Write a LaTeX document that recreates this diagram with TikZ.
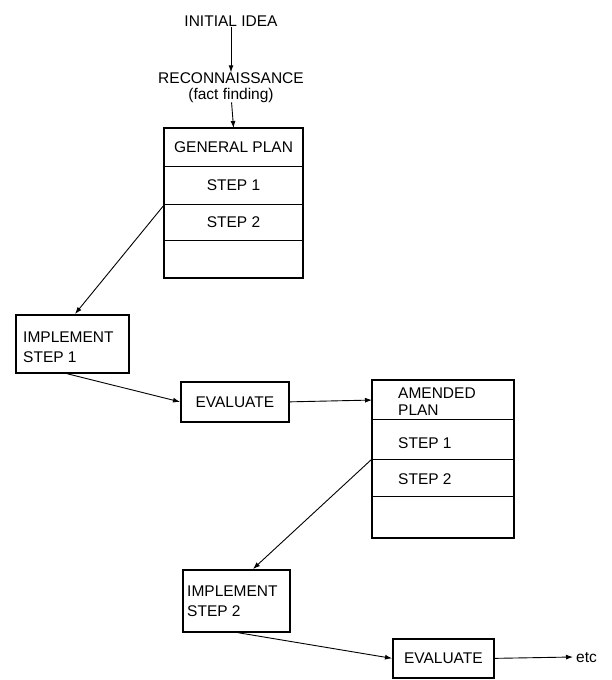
\documentclass[tikz,border=0pt]{standalone}
\usepackage{fontspec}
\setmainfont{Liberation Sans}
\usetikzlibrary{arrows.meta}
\begin{document}
\begin{tikzpicture}[x=1pt,y=-1pt,
  lbl/.style={font=\fontsize{15.5}{18}\selectfont, inner sep=0pt},
  row/.style={draw, line width=1.1pt, inner sep=0pt, anchor=north west, minimum width=#1},
  box/.style={draw, line width=1.7pt, inner sep=0pt, anchor=north west},
  frame/.style={draw, line width=1.8pt},
  arr/.style={-{Latex[length=7pt,width=5pt]}, line width=0.9pt}]
\useasboundingbox (0,0) rectangle (612,680);

% top texts
\node[lbl] (idea) at (231,21) {INITIAL IDEA};
\node[lbl] (recon) at (231,78) {RECONNAISSANCE};
\node[lbl] (fact) at (231,95) {(fact finding)};

% general plan
\node[row=138pt, minimum height=38pt] (gp1) at (164,128) {};
\node[row=138pt, minimum height=38pt] (gp2) at (164,166) {};
\node[row=138pt, minimum height=36pt] (gp3) at (164,204) {};
\node[row=138pt, minimum height=37pt] (gp4) at (164,240) {};
\draw[frame] (gp1.north west) rectangle (gp4.south east);
\node[lbl] (gpt) at (gp1.center) {GENERAL PLAN};
\node[lbl] (gps1) at (gp2.center) {STEP 1};
\node[lbl] (gps2) at (gp3.center) {STEP 2};

% implement step 1
\node[box, minimum width=113pt, minimum height=58pt] (imp1) at (15,314) {};
\node[lbl, anchor=west] (imp1a) at (23,337) {IMPLEMENT};
\node[lbl, anchor=west] (imp1b) at (23,357) {STEP 1};

% evaluate 1
\node[box, minimum width=108pt, minimum height=40pt] (ev1) at (180,381) {};
\node[lbl] (ev1t) at (ev1.center) {EVALUATE};

% amended plan
\node[row=141pt, minimum height=39pt] (ap1) at (372,380) {};
\node[row=141pt, minimum height=40pt] (ap2) at (372,419) {};
\node[row=141pt, minimum height=37pt] (ap3) at (372,459) {};
\node[row=141pt, minimum height=41pt] (ap4) at (372,496) {};
\draw[frame] (ap1.north west) rectangle (ap4.south east);
\node[lbl, anchor=west] (apa) at (398,393) {AMENDED};
\node[lbl, anchor=west] (apb) at (398,410) {PLAN};
\node[lbl, anchor=west] (aps1) at (398,443) {STEP 1};
\node[lbl, anchor=west] (aps2) at (398,479) {STEP 2};

% implement step 2
\node[box, minimum width=107pt, minimum height=62pt] (imp2) at (182,569) {};
\node[lbl, anchor=west] (imp2a) at (187,591) {IMPLEMENT};
\node[lbl, anchor=west] (imp2b) at (187,611) {STEP 2};

% evaluate 2
\node[box, minimum width=101pt, minimum height=39pt] (ev2) at (392,638) {};
\node[lbl] (ev2t) at (ev2.center) {EVALUATE};

\coordinate (etcpt) at (573,657);
\node[lbl, anchor=west] (etc) at (576,658) {etc};

% connectors
\draw[arr] (idea) -- (recon);
\draw[arr] (fact) -- (gp1.north);
\draw[arr] (gp2.south west) -- (imp1.north -| 75,0);
\draw[arr] (imp1.south -| 67,0) -- (ev1.west);
\draw[arr] (ev1.east) -- (ap1.west);
\draw[arr] (ap3.north west) -- (imp2.north -| 253,0);
\draw[arr] (imp2.south -| 238,0) -- (ev2.west);
\draw[arr] (ev2.east) -- (etcpt);
\end{tikzpicture}
\end{document}
